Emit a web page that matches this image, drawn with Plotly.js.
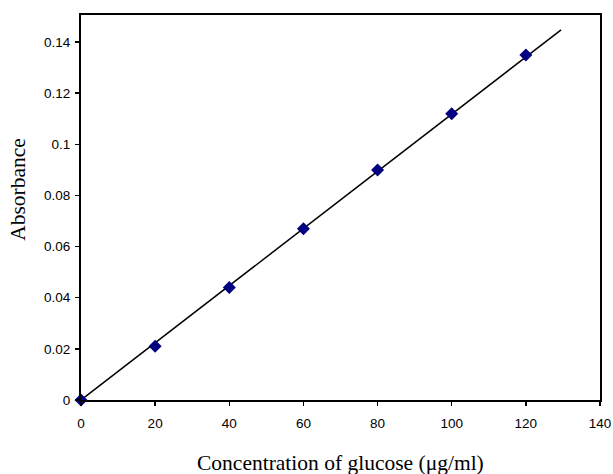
<!DOCTYPE html>
<html>
<head>
<meta charset="utf-8">
<script src="https://cdn.plot.ly/plotly-3.0.1.min.js"></script>
<style>html,body{margin:0;padding:0;background:#fff;}#chart{width:613px;height:474px;}</style>
</head>
<body>
<div id="chart"></div>
<script>
const concentration = [0, 20, 40, 60, 80, 100, 120];
const absorbance = [0, 0.021, 0.044, 0.067, 0.090, 0.112, 0.135];
const trendX = [0, 129.5];
const trendY = [0, 0.1448];
const xTicks = [0, 20, 40, 60, 80, 100, 120, 140];
const yTicks = [0, 0.02, 0.04, 0.06, 0.08, 0.1, 0.12, 0.14];
const yTickLabels = ['0', '0.02', '0.04', '0.06', '0.08', '0.1', '0.12', '0.14'];
const xTitle = 'Concentration of glucose (μg/ml)';
const yTitle = 'Absorbance';

const traces = [
  {x: trendX, y: trendY, mode: 'lines', line: {color: '#000', width: 1.5}, hoverinfo: 'skip', cliponaxis: false},
  {x: concentration, y: absorbance, mode: 'markers', cliponaxis: false,
   marker: {symbol: 'diamond', size: 10, color: '#000080', line: {width: 0}}}
];

const serif = '"Liberation Serif", "Times New Roman", serif';
const layout = {
  width: 613, height: 474,
  margin: {l: 81, r: 13, t: 15, b: 74},
  paper_bgcolor: '#fff', plot_bgcolor: '#fff',
  showlegend: false,
  font: {family: '"Liberation Sans", Arial, sans-serif', size: 13.5, color: '#000'},
  xaxis: {
    range: [0, 140], tickvals: xTicks, ticktext: xTicks.map(String),
    showgrid: false, zeroline: false, showline: true, linecolor: '#000', linewidth: 2,
    mirror: true, ticks: 'outside', ticklen: 4, tickwidth: 1.5, tickcolor: '#000',
    ticklabelstandoff: 6
  },
  yaxis: {
    range: [0, 0.1506], tickvals: yTicks, ticktext: yTickLabels,
    showgrid: false, zeroline: false, showline: true, linecolor: '#000', linewidth: 2,
    mirror: true, ticks: 'outside', ticklen: 4, tickwidth: 1.5, tickcolor: '#000',
    ticklabelstandoff: 2
  },
  annotations: [
    {text: xTitle, xref: 'paper', yref: 'paper', x: 0.5, y: 0, xanchor: 'center', yanchor: 'middle',
     yshift: -62.5, showarrow: false, font: {family: serif, size: 21.5, color: '#000'}},
    {text: yTitle, xref: 'paper', yref: 'paper', x: 0, y: 0.546, xanchor: 'center', yanchor: 'middle',
     xshift: -63, textangle: -90, showarrow: false, font: {family: serif, size: 21.5, color: '#000'}}
  ]
};

Plotly.newPlot('chart', traces, layout, {displayModeBar: false, staticPlot: true});
</script>
</body>
</html>
